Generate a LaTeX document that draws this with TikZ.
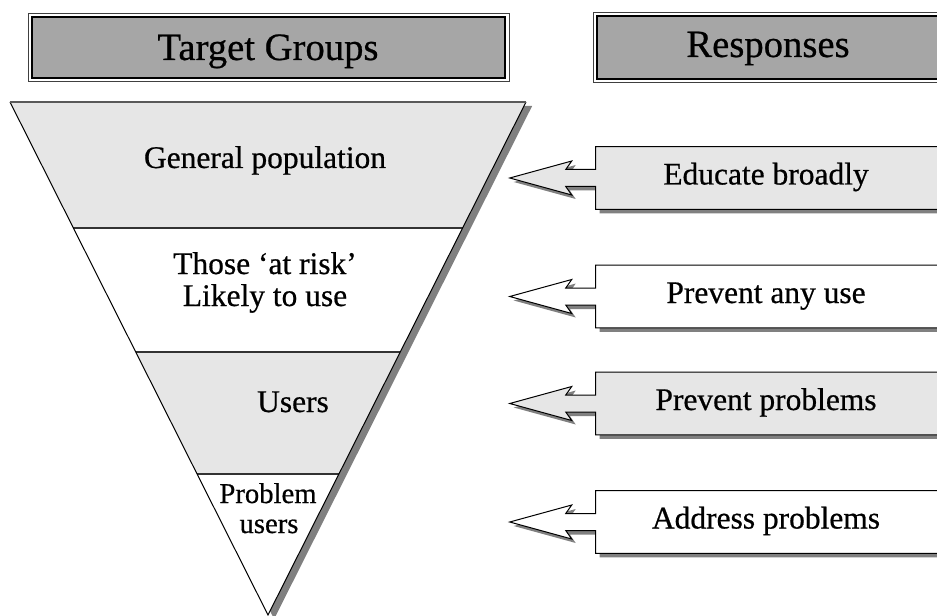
\documentclass[tikz,border=0pt]{standalone}
\usepackage{fontspec}
\setmainfont{Liberation Serif}
\newfontfamily\lblfont{Liberation Serif}[FakeBold=0.6]
\usetikzlibrary{calc}
\definecolor{paneFill}{HTML}{E6E6E6}
\definecolor{headFill}{HTML}{A6A6A6}
\definecolor{shadowGray}{HTML}{808080}

% outline of a response box with its left-pointing arrow
\newcommand\rspOutline[1]{%
  (#1.north west) -- (#1.north east) -- (#1.south east) -- (#1.south west)
  -- ($(#1.west)+(0,8.5)$) -- ($(#1.west)+(-30,8.5)$) -- ($(#1.west)+(-24,17)$)
  -- ($(#1.west)+(-86,0)$)
  -- ($(#1.west)+(-24,-17)$) -- ($(#1.west)+(-30,-8.5)$) -- ($(#1.west)+(0,-8.5)$)
  -- cycle}

\begin{document}
\begin{tikzpicture}[x=0.75pt,y=-0.75pt,
  lbl/.style={font=\lblfont\fontsize{23.6}{24.8}\selectfont, inner sep=0pt, anchor=base},
  smalllbl/.style={font=\lblfont\fontsize{21.5}{22.5}\selectfont, inner sep=0pt, anchor=base},
  headtxt/.style={font=\lblfont\fontsize{29}{30}\selectfont, inner sep=0pt, anchor=base},
  rspbox/.style={minimum width=258pt, minimum height=46.5pt, inner sep=0pt},
  outerframe/.style={draw=black!75, line width=0.75pt},
  innerframe/.style={draw=black, fill=headFill, line width=1.5pt},
  callout/.style={draw=black, line width=0.75pt},
  dropshadow/.style={fill=shadowGray, transform canvas={xshift=3pt, yshift=-3pt}},
]
\clip (0,0) rectangle (937,616);

% ---- column headers ----
\draw[outerframe] (28,14) rectangle (509,82);
\draw[innerframe] (32,17.5) rectangle (505,78.5);
\node[headtxt] (hTarget) at (268,60) {Target Groups};

\draw[outerframe] (593,13) rectangle (960,83);
\draw[innerframe] (597,16.5) rectangle (960,79.5);
\node[headtxt] (hResp) at (768,57) {Responses};

% ---- inverted triangle ----
\coordinate (TL) at (10,102);
\coordinate (TR) at (526,102);
\coordinate (AP) at (268,615);
\coordinate (L1) at ($(TL)!0.2456!(AP)$);
\coordinate (R1) at ($(TR)!0.2456!(AP)$);
\coordinate (L2) at ($(TL)!0.4873!(AP)$);
\coordinate (R2) at ($(TR)!0.4873!(AP)$);
\coordinate (L3) at ($(TL)!0.7251!(AP)$);
\coordinate (R3) at ($(TR)!0.7251!(AP)$);

\fill[shadowGray, transform canvas={xshift=4.6pt, yshift=-3pt}] (TL) -- (TR) -- (AP) -- cycle;
\fill[paneFill] (TL) -- (TR) -- (R1) -- (L1) -- cycle;
\fill[white] (L1) -- (R1) -- (R2) -- (L2) -- cycle;
\fill[paneFill] (L2) -- (R2) -- (R3) -- (L3) -- cycle;
\fill[white] (L3) -- (R3) -- (AP) -- cycle;
\draw[black!80, line width=0.9pt] (L1) -- (R1) (L2) -- (R2) (L3) -- (R3);
\draw[line width=0.75pt] (TL) -- (AP) -- (TR);
\draw[black!65, line width=1.6pt] (TL) -- (TR);

\node[lbl] (sGen) at (265,168) {General population};
\node[lbl] (sRisk1) at (265,274) {Those ‘at risk’};
\node[lbl] (sRisk2) at (265,306) {Likely to use};
\node[lbl] (sUsers) at (293,412) {Users};
\node[smalllbl] (sProb1) at (268,503) {Problem};
\node[smalllbl] (sProb2) at (269,533) {users};

% ---- response callouts ----
\node[rspbox] (r1) at (768,178) {};
\fill[dropshadow] \rspOutline{r1};
\draw[callout, fill=paneFill] \rspOutline{r1};
\node[lbl] (t1) at ($(r1.center)+(-2,6.5)$) {Educate broadly};

\node[rspbox] (r2) at (768,296.5) {};
\fill[dropshadow] \rspOutline{r2};
\draw[callout, fill=white] \rspOutline{r2};
\node[lbl] (t2) at ($(r2.center)+(-2,6.5)$) {Prevent any use};

\node[rspbox] (r3) at (768,403.5) {};
\fill[dropshadow] \rspOutline{r3};
\draw[callout, fill=paneFill] \rspOutline{r3};
\node[lbl] (t3) at ($(r3.center)+(-2,6.5)$) {Prevent problems};

\node[rspbox] (r4) at (768,522) {};
\fill[dropshadow] \rspOutline{r4};
\draw[callout, fill=white] \rspOutline{r4};
\node[lbl] (t4) at ($(r4.center)+(-2,6.5)$) {Address problems};
\end{tikzpicture}
\end{document}
